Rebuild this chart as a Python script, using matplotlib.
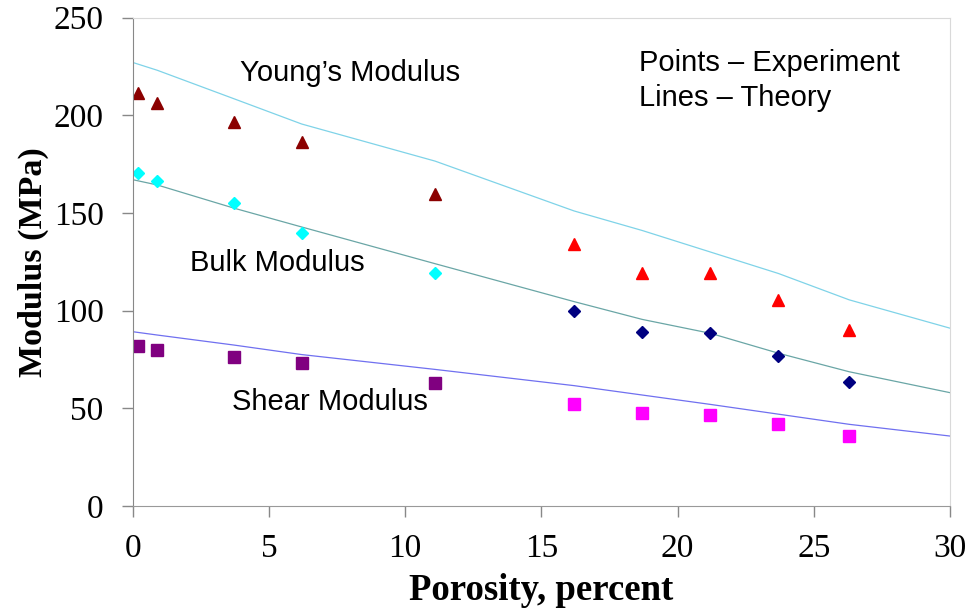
import matplotlib
matplotlib.use("Agg")
import matplotlib.pyplot as plt

# Experimental data (porosity %, modulus MPa)
porosity_exp = [0.2, 0.9, 3.7, 6.2, 11.1, 16.2, 18.7, 21.2, 23.7, 26.3]
young_exp = [211.2, 206.1, 196.7, 186.4, 159.5, 133.9, 119.4, 119.4, 105.4, 90.1]
bulk_exp = [170.3, 166.5, 154.9, 139.9, 119.1, 99.9, 89.2, 88.4, 76.9, 63.6]
shear_exp = [81.9, 79.8, 76.1, 73.3, 62.8, 52.2, 47.4, 46.6, 41.8, 36.0]

# Theory curves
porosity_th = [0, 0.9, 3.7, 6.2, 11.1, 16.2, 18.7, 21.2, 23.7, 26.3, 30]
young_th = [227.0, 223.0, 208.5, 195.5, 176.5, 151.0, 141.0, 130.0, 119.0, 105.5, 91.0]
bulk_th = [167.0, 164.3, 152.5, 142.8, 124.0, 104.6, 95.5, 88.4, 78.2, 68.7, 58.0]
shear_th = [89.2, 87.5, 82.4, 77.5, 69.9, 61.6, 56.8, 52.0, 47.0, 41.8, 35.8]

n_low = 5  # first five points drawn in darker/alternate colors

fig = plt.figure(figsize=(9.71, 6.12), dpi=100)
ax = fig.add_axes([0.1367, 0.1732, 0.8417, 0.7982])

ax.plot(porosity_th, young_th, color="#7fd3e8", lw=0.9)
ax.plot(porosity_th, bulk_th, color="#6aa6a6", lw=0.9)
ax.plot(porosity_th, shear_th, color="#7070f0", lw=0.9)

ax.plot(porosity_exp[:n_low], young_exp[:n_low], ls="none", marker="^", ms=9, color="#8b0000")
ax.plot(porosity_exp[n_low:], young_exp[n_low:], ls="none", marker="^", ms=9, color="#ff0000")
ax.plot(porosity_exp[:n_low], bulk_exp[:n_low], ls="none", marker="D", ms=5.8, color="#00ffff")
ax.plot(porosity_exp[n_low:], bulk_exp[n_low:], ls="none", marker="D", ms=5.8, color="#000080")
ax.plot(porosity_exp[:n_low], shear_exp[:n_low], ls="none", marker="s", ms=8, color="#800080")
ax.plot(porosity_exp[n_low:], shear_exp[n_low:], ls="none", marker="s", ms=8, color="#ff00ff")

ax.set_xlim(0, 30)
ax.set_ylim(0, 250)
ax.set_xticks(range(0, 31, 5))
ax.set_yticks(range(0, 251, 50))

serif = "Liberation Serif"
sans = "Liberation Sans"
for lab in ax.get_xticklabels() + ax.get_yticklabels():
    lab.set_fontfamily(serif)
    lab.set_fontsize(24)
ax.tick_params(axis="both", direction="out", length=8, width=1, color="#888888")
ax.tick_params(axis="y", pad=13)
ax.tick_params(axis="x", pad=12)

ax.set_xlabel("Porosity, percent", fontfamily=serif, fontweight="bold", fontsize=26.5, labelpad=6)
ax.set_ylabel("Modulus (MPa)", fontfamily=serif, fontweight="bold", fontsize=24.5, labelpad=3)

ax.spines["left"].set_color("#888888")
ax.spines["bottom"].set_color("#999999")
ax.spines["top"].set_color("#d9d9d9")
ax.spines["right"].set_color("#d9d9d9")

ax.text(3.93, 221.6, "Young\u2019s Modulus", fontfamily=sans, fontsize=21, va="center", ha="left")
ax.text(2.1, 124.4, "Bulk Modulus", fontfamily=sans, fontsize=21, va="center", ha="left")
ax.text(3.64, 53.2, "Shear Modulus", fontfamily=sans, fontsize=21, va="center", ha="left")
ax.text(18.6, 226.7, "Points \u2013 Experiment", fontfamily=sans, fontsize=21, va="center", ha="left")
ax.text(18.6, 208.8, "Lines \u2013 Theory", fontfamily=sans, fontsize=21, va="center", ha="left")

fig.savefig("out.png", dpi=100)
